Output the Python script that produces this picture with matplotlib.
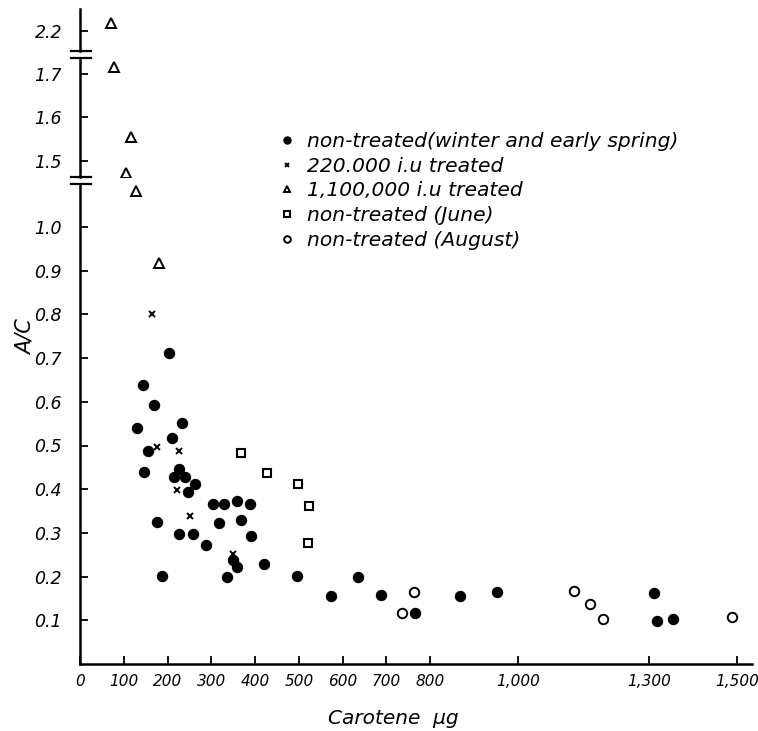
import matplotlib
matplotlib.use("Agg")
import matplotlib.pyplot as plt
import numpy as np

# ---------------- data ----------------
winter_x = [204, 145, 170, 130, 232, 211, 156, 147, 227, 215, 240, 263, 247, 303, 329, 359, 388,
            175, 317, 367, 225, 257, 390, 287, 349, 359, 421, 188, 336, 495, 573, 636, 688, 766,
            868, 953, 1312, 1319, 1355]
winter_y = [0.712, 0.639, 0.593, 0.539, 0.551, 0.518, 0.487, 0.439, 0.446, 0.427, 0.427, 0.412, 0.393,
            0.367, 0.367, 0.372, 0.365, 0.324, 0.323, 0.330, 0.298, 0.297, 0.292, 0.272, 0.239, 0.221,
            0.228, 0.202, 0.199, 0.201, 0.156, 0.198, 0.159, 0.117, 0.155, 0.164, 0.162, 0.099, 0.103]

t220_x = [164, 175, 227, 221, 251, 349]
t220_y = [0.802, 0.497, 0.488, 0.399, 0.338, 0.252]

t1100_x = [71, 78, 116, 105, 129, 181]
t1100_y = [2.217, 1.714, 1.556, 1.472, 1.083, 0.917]

june_x = [368, 428, 497, 522, 521]
june_y = [0.482, 0.436, 0.412, 0.361, 0.278]

aug_x = [764, 736, 1128, 1166, 1195, 1489]
aug_y = [0.165, 0.117, 0.166, 0.137, 0.103, 0.107]

labels = ["non-treated(winter and early spring)", "220.000 i.u treated",
          "1,100,000 i.u treated", "non-treated (June)", "non-treated (August)"]

xticks = [0, 100, 200, 300, 400, 500, 600, 700, 800, 1000, 1300, 1500]
xticklabels = ["0", "100", "200", "300", "400", "500", "600", "700", "800", "1,000", "1,300", "1,500"]
yticks_low = [0.1, 0.2, 0.3, 0.4, 0.5, 0.6, 0.7, 0.8, 0.9, 1.0]
yticks_mid = [1.5, 1.6, 1.7]
yticks_top = [2.2]

seg_low = (0.0, 1.098)
seg_mid = (1.464, 1.735)
seg_top = (2.153, 2.25)

# ---------------- layout ----------------
W, H = 758, 731
fig = plt.figure(figsize=(W / 100, H / 100), dpi=100)
plt.rcParams['font.family'] = ['DejaVu Sans']

left_px, right_px = 80, 752
ppu = 437.0          # pixels per y unit
y0_px = 664          # pixel of y = 0
ref_mid_px = 161     # pixel of 1.5
ref_top_px = 30.7    # pixel of 2.2


def rect(lo_px, hi_px):
    return [left_px / W, 1 - lo_px / H, (right_px - left_px) / W, (lo_px - hi_px) / H]


low_lo = y0_px - seg_low[0] * ppu
low_hi = y0_px - seg_low[1] * ppu
mid_lo = ref_mid_px + (1.5 - seg_mid[0]) * ppu
mid_hi = ref_mid_px - (seg_mid[1] - 1.5) * ppu
top_lo = ref_top_px + (2.2 - seg_top[0]) * ppu
top_hi = ref_top_px - (seg_top[1] - 2.2) * ppu

ax_low = fig.add_axes(rect(low_lo, low_hi))
ax_mid = fig.add_axes(rect(mid_lo, mid_hi))
ax_top = fig.add_axes(rect(top_lo, top_hi))

ytick_font = dict(fontsize=12.5, style='italic')
xtick_font = dict(fontsize=11, style='italic')

series = [
    (winter_x, winter_y, dict(marker='o', ms=7.2, mfc='black', mec='black', mew=1.0)),
    (t220_x, t220_y, dict(marker='x', ms=5, mfc='black', mec='black', mew=1.4)),
    (t1100_x, t1100_y, dict(marker='^', ms=6.5, mfc='white', mec='black', mew=1.4)),
    (june_x, june_y, dict(marker='s', ms=6.0, mfc='white', mec='black', mew=1.5)),
    (aug_x, aug_y, dict(marker='o', ms=6.8, mfc='white', mec='black', mew=1.4)),
]

handles = []
for ax, seg, yt in [(ax_low, seg_low, yticks_low), (ax_mid, seg_mid, yticks_mid), (ax_top, seg_top, yticks_top)]:
    for i, (xs, ys, st) in enumerate(series):
        h, = ax.plot(xs, ys, linestyle='none', **st)
        if ax is ax_low:
            handles.append(h)
    ax.set_xlim(0, (right_px - left_px) / 0.4378)
    ax.set_ylim(*seg)
    ax.set_yticks(yt)
    ax.set_yticklabels([f"{v:.1f}" for v in yt], **ytick_font)
    ax.tick_params(axis='y', direction='in', length=6, width=1.3, pad=13)
    for s in ['top', 'right']:
        ax.spines[s].set_visible(False)
    ax.spines['left'].set_linewidth(1.8)
    ax.set_facecolor('none')
    if ax is not ax_low:
        ax.spines['bottom'].set_visible(False)
        ax.set_xticks([])
    # break caps
    if ax is ax_low:
        caps = [1]
    elif ax is ax_mid:
        caps = [0, 1]
    else:
        caps = [0]
    for c in caps:
        ax.plot([-0.014, 0.016], [c, c], transform=ax.transAxes, clip_on=False,
                color='black', lw=1.6)

ax_low.spines['bottom'].set_linewidth(1.8)
ax_low.set_xticks(xticks)
ax_low.set_xticklabels(xticklabels, **xtick_font)
ax_low.tick_params(axis='x', direction='in', length=6, width=1.3, pad=7)

fig.text(393 / W, 1 - 718 / H, "Carotene  μg", ha='center', va='center',
         fontsize=14.5, style='italic')
fig.text(26 / W, 1 - 337 / H, "A/C", ha='center', va='center', rotation=90,
         fontsize=15, style='italic')

leg = fig.legend(handles, labels, loc='upper left', bbox_to_anchor=(279 / W, 1 - 132 / H),
                 frameon=False, prop=dict(style='italic', size=14.6),
                 handlelength=0.8, handletextpad=0.6, labelspacing=0.28, borderpad=0,
                 borderaxespad=0, markerscale=0.7)

fig.savefig("out.png", dpi=100)
